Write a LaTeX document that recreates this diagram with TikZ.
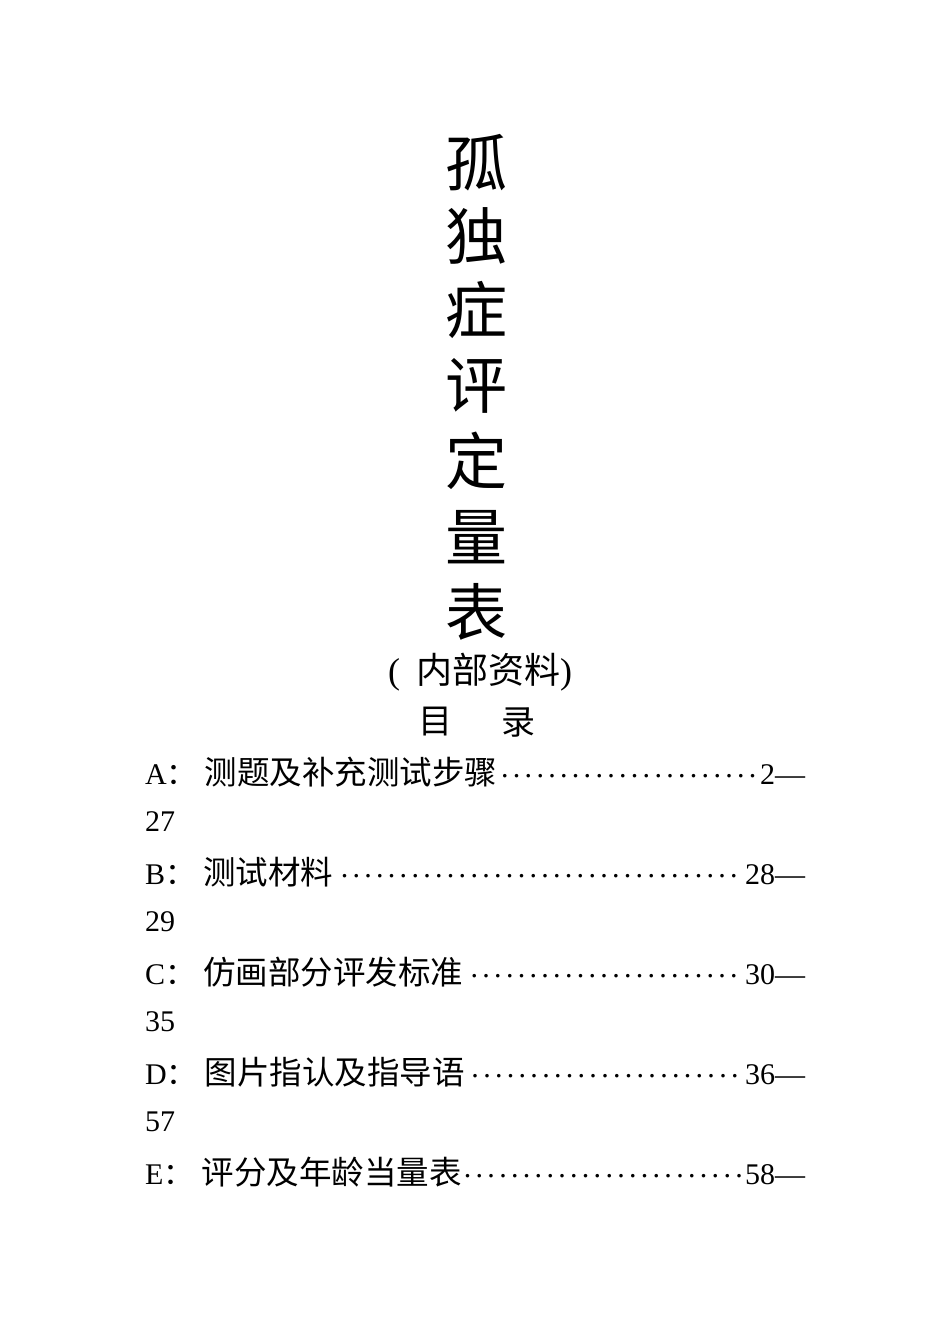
\documentclass[tikz,border=0pt]{standalone}
\usepackage{fontspec}
\setmainfont{Liberation Serif}
\newfontfamily\cjk{Noto Sans CJK SC}
\newcommand{\lead}{\cleaders\hbox to 11.8pt{\hss\raisebox{7pt}{\fontsize{30}{30}\selectfont.}\hss}\hfill}
\newcommand{\colo}{{\cjk ：}\hspace{8pt}}
\newcommand{\ct}[1]{{\cjk\fontsize{32.5}{32.5}\selectfont #1}}
\begin{document}
\begin{tikzpicture}[x=1pt,y=-1pt,
  title/.style={font=\cjk\fontsize{62}{62}\selectfont,inner sep=0},
  toc/.style={anchor=west,inner sep=0,font=\fontsize{30}{30}\selectfont}]
\useasboundingbox (0,0) rectangle (950,1344);
\foreach \c/\y [count=\i] in {孤/163,独/236,症/310,评/386,定/461,量/537,表/612}
  \node[title] (t\i) at (476,\y) {\c};
\node[inner sep=0,font=\fontsize{36}{36}\selectfont] (sub) at (480,672) {(\hspace{16pt}{\cjk 内部资料})};
\node[inner sep=0,font=\cjk\fontsize{34}{34}\selectfont] (ml) at (435,722) {目};
\node[inner sep=0,font=\cjk\fontsize{34}{34}\selectfont] (mr) at (518,722) {录};
\node[toc] (a) at (145,772) {\hbox to 660pt{A\colo\ct{测题及补充测试步骤}\lead 2—}};
\node[toc] (a2) at (145,822) {27};
\node[toc] (b) at (145,872) {\hbox to 660pt{B\colo\ct{测试材料}\lead 28—}};
\node[toc] (b2) at (145,922) {29};
\node[toc] (c) at (145,972) {\hbox to 660pt{C\colo\ct{仿画部分评发标准}\lead 30—}};
\node[toc] (c2) at (145,1022) {35};
\node[toc] (d) at (145,1072) {\hbox to 660pt{D\colo\ct{图片指认及指导语}\lead 36—}};
\node[toc] (d2) at (145,1122) {57};
\node[toc] (e) at (145,1172) {\hbox to 660pt{E\colo\ct{评分及年龄当量表}\lead 58—}};
\end{tikzpicture}
\end{document}
